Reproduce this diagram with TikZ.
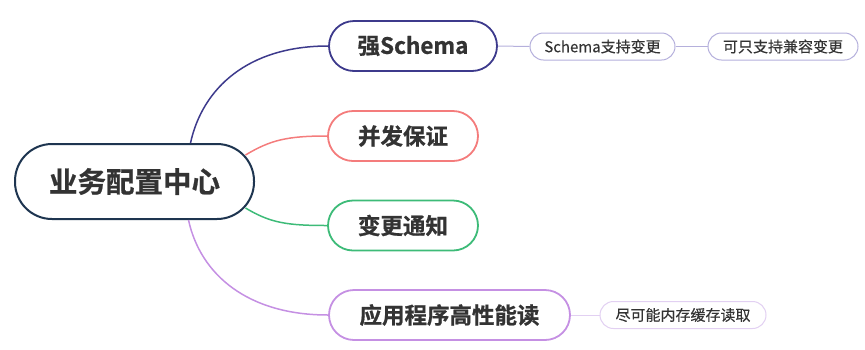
\documentclass[tikz,border=0pt]{standalone}
\usepackage{fontspec}
\setmainfont{Noto Sans CJK SC}
\newfontfamily\cjkbold[FakeBold=0.8]{Noto Sans CJK SC Bold}
\newfontfamily\cjkmed[FakeBold=0.3]{Noto Sans CJK SC}
\definecolor{rootc}{HTML}{1E3550}
\definecolor{navy}{HTML}{3D3A8C}
\definecolor{salmon}{HTML}{F47C7C}
\definecolor{mgreen}{HTML}{3DBB78}
\definecolor{lilac}{HTML}{C590E3}
\definecolor{subA}{HTML}{B5B0DC}
\definecolor{subB}{HTML}{E2D0F2}
\definecolor{txt}{HTML}{333333}
\begin{document}
\begin{tikzpicture}[x=1pt,y=-1pt,
  pill/.style={draw, line width=1.8pt, fill=white, rounded corners=25pt, minimum height=50pt, inner sep=0pt, text=txt, font=\cjkbold\fontsize{22.5}{25}\selectfont},
  rootbox/.style={draw=rootc, line width=2pt, fill=white, rounded corners=37pt, minimum width=239pt, minimum height=75pt, inner sep=0pt, text=txt, font=\cjkbold\fontsize{28.5}{31}\selectfont},
  subbox/.style={draw, line width=1pt, fill=white, rounded corners=13.5pt, minimum height=27pt, inner sep=0pt, text=txt, font=\cjkmed\fontsize{15}{17}\selectfont},
  conn/.style={line width=1.5pt},
  subconn/.style={line width=1pt}]
\useasboundingbox (0,0) rectangle (865,349);
\node[rootbox] (root) at (134.5,181.5) {业务配置中心};
\node[pill, draw=navy, minimum width=168pt] (s1) at (413,46) {强Schema};
\node[pill, draw=salmon, minimum width=150pt] (s2) at (403,136) {并发保证};
\node[pill, draw=mgreen, minimum width=150pt] (s3) at (403,225.5) {变更通知};
\node[pill, draw=lilac, minimum width=241pt] (s4) at (449.5,315) {应用程序高性能读};
\node[subbox, draw=subA, minimum width=145pt] (a1) at (602.5,46.5) {Schema支持变更};
\node[subbox, draw=subA, minimum width=150pt] (a2) at (783,46.5) {可只支持兼容变更};
\node[subbox, draw=subB, minimum width=166pt] (b1) at (683,315) {尽可能内存缓存读取};
\draw[conn, navy] ([xshift=56pt]root.north) .. controls +(12,-55) and +(-80,0) .. (s1.west);
\draw[conn, salmon] ([xshift=111pt,yshift=-12pt]root.north) .. controls +(25,-15) and +(-40,0) .. (s2.west);
\draw[conn, mgreen] ([xshift=111pt,yshift=12pt]root.south) .. controls +(25,15) and +(-40,0) .. (s3.west);
\draw[conn, lilac] ([xshift=54pt]root.south) .. controls +(12,55) and +(-80,0) .. (s4.west);
\draw[subconn, subA] (s1.east) -- (a1.west);
\draw[subconn, subA] (a1.east) -- (a2.west);
\draw[subconn, subB] (s4.east) -- (b1.west);
\end{tikzpicture}
\end{document}
